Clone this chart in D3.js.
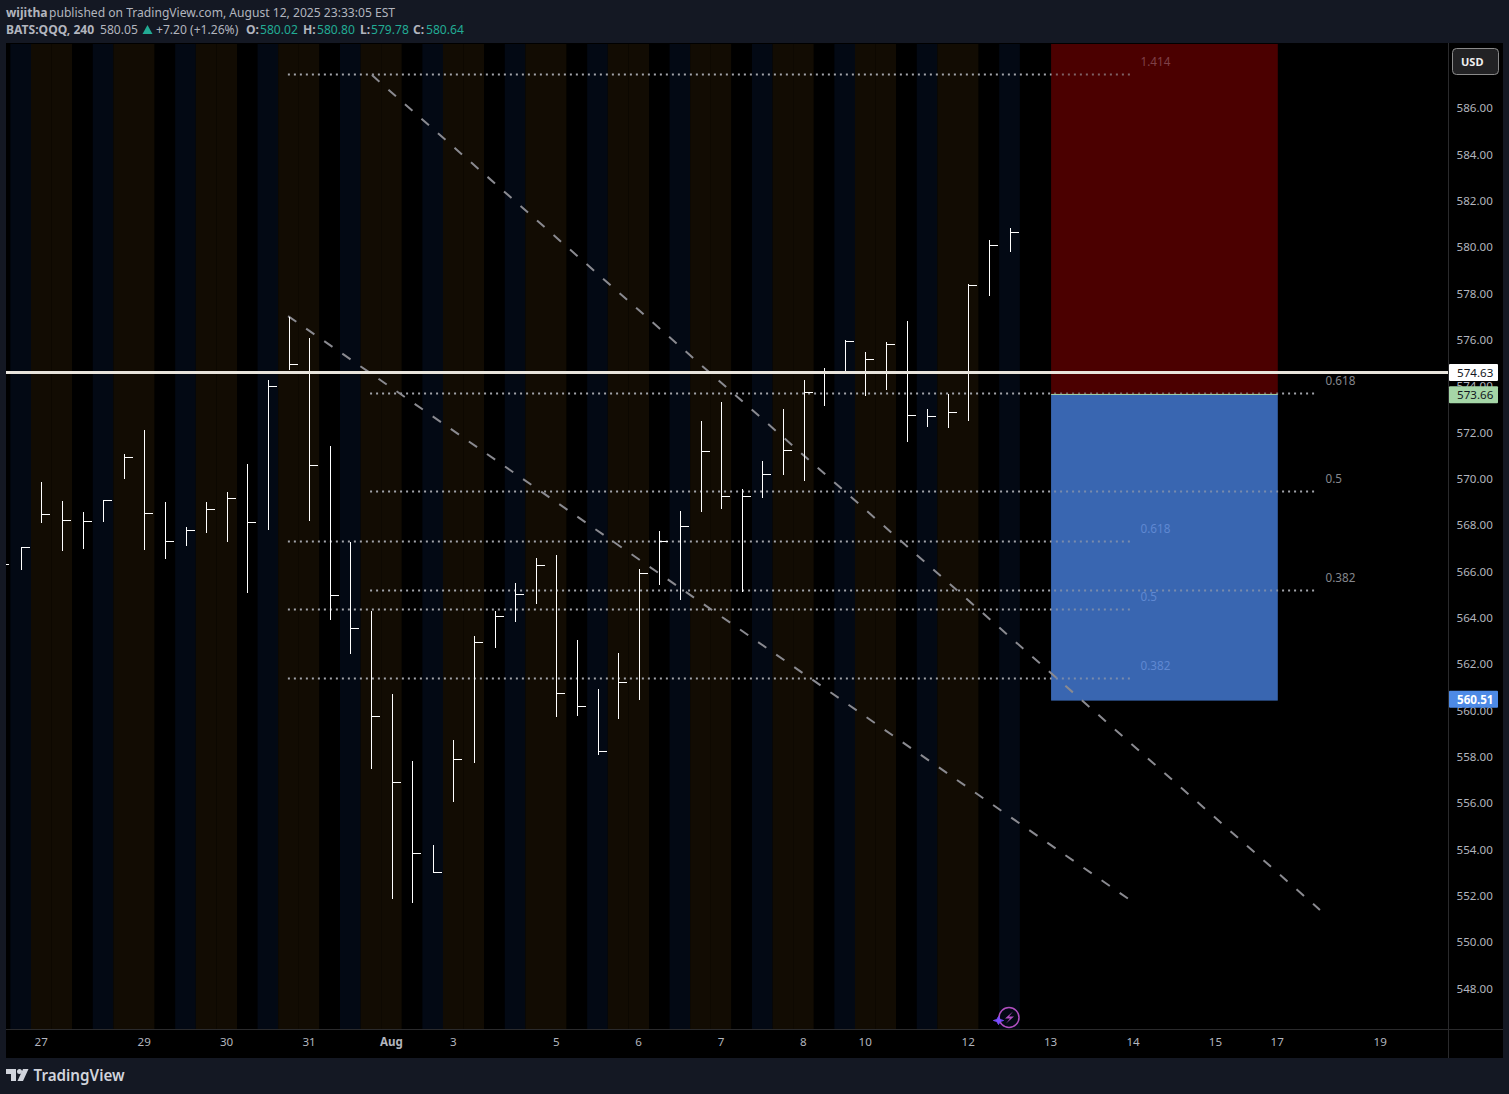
<!DOCTYPE html>
<html><head><meta charset="utf-8">
<script src="https://cdn.jsdelivr.net/npm/d3@7/dist/d3.min.js"></script>
<style>
html,body{margin:0;padding:0;background:#141823;overflow:hidden}
svg{display:block}
text{font-family:"Noto Sans","Open Sans",sans-serif}
</style></head><body>
<div id="chart"></div>
<script>
const highs=[566.6,567.05,569.86,569.04,568.56,569.08,571.07,572.10,568.99,567.92,568.99,569.43,570.64,574.26,576.99,576.07,571.41,567.27,564.29,560.71,557.82,554.19,558.72,563.21,564.29,565.50,566.58,566.71,563.04,560.92,562.48,566.10,567.74,568.61,572.49,573.31,569.56,570.76,573.01,574.26,574.78,575.99,575.47,575.90,576.81,573.01,573.66,578.40,580.30,580.80];
const lows=[565.9,566.07,568.10,566.89,566.98,568.14,569.99,566.94,566.55,567.11,567.67,567.28,565.08,567.80,574.70,568.19,563.90,562.43,557.48,551.87,551.70,553.00,556.06,557.74,562.71,563.83,564.61,559.73,559.77,558.09,559.64,560.46,565.43,564.78,568.58,568.71,565.12,569.18,570.17,569.91,573.15,574.55,573.58,573.84,571.60,572.25,572.20,572.50,577.89,579.78];
const closes=[566.32,567.04,568.46,568.21,568.16,569.07,570.92,568.51,567.30,567.77,568.68,569.15,568.12,574.00,574.94,570.58,564.97,563.56,559.76,556.90,553.83,553.02,557.89,562.94,564.06,565.01,566.26,560.74,560.18,558.24,561.21,565.92,567.31,567.95,571.18,569.24,569.24,570.19,571.23,573.73,574.55,575.94,575.15,575.80,572.74,572.69,572.87,578.36,580.09,580.64];
const firstBarIndex=-1;
const priceTicks=[548,550,552,554,556,558,560,562,564,566,568,570,572,574,576,578,580,582,584,586];
const timeTickIndex=[1,6,10,14,18,21,26,30,34,38,41,46,50,54,58,61,66];
const timeTickLabels=["27","29","30","31","Aug","3","5","6","7","8","10","12","13","14","15","17","19"];
const lastPrice=574.63, entryPrice=573.66, stopPrice=560.51, boxBottom=560.45, riskTop=589;
const boxStart=50.02, boxEnd=61.02;
const fibA=[{v:573.72,t:"0.618"},{v:569.45,t:"0.5"},{v:565.2,t:"0.382"}];
const fibB=[{v:587.47,t:"1.414",c:"#7f4048"},{v:567.33,t:"0.618",c:"#5f88d2"},{v:564.36,t:"0.5",c:"#5f88d2"},{v:561.38,t:"0.382",c:"#5f88d2"}];
const fibARange=[16.96,62.88], fibBRange=[12.97,53.9];
const trend1=[[17.05,587.42],[63.07,551.39]];
const trend2=[[12.98,577.02],[53.85,551.82]];
const hdr1=[["wijitha",6,700,"#b2b5be"],["published on TradingView.com, August 12, 2025 23:33:05 EST",49,400,"#b2b5be"]];
const hdr2=[["BATS:QQQ, 240",6,700,"#b2b5be"],["580.05",100,400,"#b2b5be"],["+7.20 (+1.26%)",156,400,"#b2b5be"],["O:",246,700,"#b2b5be"],["580.02",260,400,"#22ab94"],["H:",303,700,"#b2b5be"],["580.80",317,400,"#22ab94"],["L:",360,700,"#b2b5be"],["579.78",371,400,"#22ab94"],["C:",413,700,"#b2b5be"],["580.64",426,400,"#22ab94"]];

const W=1509,H=1094,L=6,R=1448,T=43,B=1029,RE=1503,BE=1058;
const x=d3.scaleLinear().domain([0,48]).range([20.7,1009.5]);
const y=d3.scaleLinear().domain([586,548]).range([108,988.5]);
const svg=d3.select("#chart").append("svg").attr("width",W).attr("height",H);
svg.append("rect").attr("width",W).attr("height",H).attr("fill","#141823");
svg.append("rect").attr("x",L).attr("y",T).attr("width",RE-L).attr("height",BE-T).attr("fill","#000");
svg.append("defs").append("clipPath").attr("id","plot").append("rect").attr("x",L).attr("y",T+1).attr("width",R-L).attr("height",B-T-1);
const plot=svg.append("g").attr("clip-path","url(#plot)");
const bw=x(1)-x(0);
const bandColors=["#030914","#120c03","#120c03","#000000"];
plot.append("g").selectAll("rect").data(highs).join("rect")
 .attr("x",(d,i)=>x(i+firstBarIndex)-bw/2).attr("width",bw).attr("y",T).attr("height",B-T)
 .attr("fill",(d,i)=>bandColors[((i+firstBarIndex)%4+4)%4]);
const boxes=[[riskTop,entryPrice,"#4b0000"],[entryPrice,boxBottom,"#3a67b1"]];
const drawBoxes=op=>boxes.forEach(([a,b,c])=>plot.append("rect").attr("x",x(boxStart)).attr("width",x(boxEnd)-x(boxStart)).attr("y",y(a)+.5).attr("height",y(b)-y(a)).attr("fill",c).attr("fill-opacity",op));
drawBoxes(1);
const dots=(data,r)=>plot.append("g").selectAll("line").data(data).join("line")
 .attr("x1",x(r[0])).attr("x2",x(r[1])).attr("y1",d=>Math.round(y(d.v))+.5).attr("y2",d=>Math.round(y(d.v))+.5)
 .attr("stroke","#a2a4aa").attr("stroke-width",2).attr("stroke-dasharray","2 4");
dots(fibA,fibARange);dots(fibB,fibBRange);
drawBoxes(.4);
plot.append("line").attr("x1",x(boxStart)).attr("x2",x(boxEnd)).attr("y1",y(entryPrice)+.5).attr("y2",y(entryPrice)+.5).attr("stroke","#a5d6a7").attr("stroke-width",1);
plot.append("g").selectAll("text").data(fibA).join("text").attr("x",x(fibARange[1])+9.5).attr("y",d=>y(d.v)-8).text(d=>d.t).attr("fill","#85878d").attr("font-size",11.7);
plot.append("g").selectAll("text").data(fibB).join("text").attr("x",x(fibBRange[1])+9.5).attr("y",d=>y(d.v)-8).text(d=>d.t).attr("fill",d=>d.c).attr("font-size",11.7);
[trend1,trend2].forEach(t=>plot.append("line").attr("x1",x(t[0][0])).attr("y1",y(t[0][1])).attr("x2",x(t[1][0])).attr("y2",y(t[1][1]))
 .attr("stroke","#8a8a90").attr("stroke-width",2).attr("stroke-dasharray","10 12"));
const bars=plot.append("g").attr("stroke","#fff").attr("stroke-width",1).attr("shape-rendering","crispEdges");
const px=i=>Math.round(x(i+firstBarIndex))+.5;
bars.selectAll(".v").data(highs).join("line").attr("class","v").attr("x1",(d,i)=>px(i)).attr("x2",(d,i)=>px(i)).attr("y1",d=>y(d)).attr("y2",(d,i)=>y(lows[i]));
bars.selectAll(".c").data(closes).join("line").attr("class","c").attr("x1",(d,i)=>px(i)).attr("x2",(d,i)=>px(i)+8.5).attr("y1",d=>Math.round(y(d))+.5).attr("y2",d=>Math.round(y(d))+.5);
plot.append("line").attr("x1",L).attr("x2",R).attr("y1",y(lastPrice)+1).attr("y2",y(lastPrice)+1).attr("stroke","#e8e4dc").attr("stroke-width",3);
const fmtP=d3.format(".2f");
const yAxis=svg.append("g").attr("transform",`translate(${R},0.1)`).call(d3.axisRight(y).tickValues(priceTicks).tickFormat(fmtP).tickSize(0).tickPadding(8.5));
yAxis.select(".domain").remove();
yAxis.selectAll("text").attr("fill","#b2b5be").attr("font-size",11.6).attr("font-family","'Noto Sans'");
const xAxis=svg.append("g").attr("transform",`translate(-0.6,${B})`).call(d3.axisBottom(x).tickValues(timeTickIndex).tickFormat((d,i)=>timeTickLabels[i]).tickSize(0).tickPadding(9));
xAxis.select(".domain").remove();
xAxis.selectAll("text").attr("fill","#b2b5be").attr("font-size",11.6).attr("font-family","'Noto Sans'").attr("font-weight",(d,i)=>timeTickLabels[i]==="Aug"?700:400);
svg.append("line").attr("x1",L).attr("x2",RE).attr("y1",B+.5).attr("y2",B+.5).attr("stroke","#2a2a2c");
svg.append("line").attr("x1",R+.5).attr("x2",R+.5).attr("y1",T).attr("y2",BE).attr("stroke","#2a2a2c");
const labels=[[lastPrice,"#ffffff","#131722",400,1],[entryPrice,"#a5d6a7","#131722",400,.8],[stopPrice,"#4d8ae6","#ffffff",700,.5]];
const lg=svg.append("g");
labels.forEach(([v,bg,fg,w,dy])=>{const cy=y(v)+dy;
 lg.append("rect").attr("x",R+1).attr("y",cy-8.5).attr("width",49).attr("height",17).attr("rx",1).attr("fill",bg);
 lg.append("text").attr("x",R+9).attr("y",cy+4.5).attr("fill",fg).attr("font-size",11.6).attr("font-weight",w).text(fmtP(v));});
svg.append("rect").attr("x",1452.5).attr("y",48.5).attr("width",46).attr("height",26).attr("rx",4).attr("fill","#222224").attr("stroke","#8a8a8a");
svg.append("text").attr("x",1461).attr("y",66).attr("fill","#f0f0f0").attr("font-size",11).attr("font-weight",700).text("USD");
const fs=12.1;
svg.append("g").selectAll("text").data(hdr1).join("text").attr("x",d=>d[1]).attr("y",17).attr("font-size",fs).attr("font-weight",d=>d[2]).attr("fill",d=>d[3]).text(d=>d[0]);
svg.append("g").selectAll("text").data(hdr2).join("text").attr("x",d=>d[1]).attr("y",34).attr("font-size",fs).attr("font-weight",d=>d[2]).attr("fill",d=>d[3]).text(d=>d[0]);
svg.append("path").attr("d","M142.5 34L147.5 25L152.5 34Z").attr("fill","#22ab94");
svg.append("path").attr("fill","#d1d4dc").attr("d","M6 1069H16V1081H11V1074H6ZM23 1069H28.5L23 1081H17.5Z");
svg.append("circle").attr("cx",19.5).attr("cy",1071.5).attr("r",2.5).attr("fill","#d1d4dc");
svg.append("text").attr("x",33.5).attr("y",1081).attr("font-size",15.2).attr("font-weight",600).attr("font-family","Inter").attr("fill","#d1d4dc").text("TradingView");
svg.append("circle").attr("cx",1009).attr("cy",1017.5).attr("r",10).attr("fill","none").attr("stroke","#b04fc0").attr("stroke-width",1.5);
svg.append("path").attr("d","M1013 1011.5L1005 1018.5H1010L1006 1023.5L1014 1016.5H1009Z").attr("fill","#b04fc0");
svg.append("path").attr("d","M998.5 1016.5Q999.5 1020.5 1003.5 1020.5Q999.5 1020.5 998.5 1024.5Q997.5 1020.5 993.5 1020.5Q997.5 1020.5 998.5 1016.5Z").attr("fill","#7b4dff").attr("stroke","#7b4dff");
</script></body></html>
